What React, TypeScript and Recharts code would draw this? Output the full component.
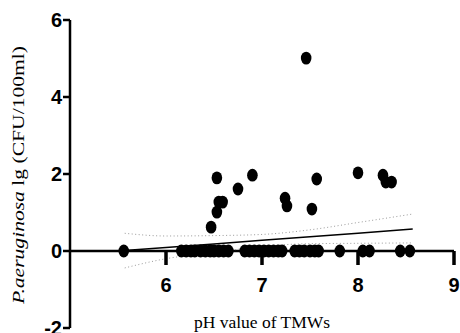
import { ComposedChart, Scatter, Line, XAxis, YAxis, ReferenceLine } from 'recharts';

// pH of each sample and its P. aeruginosa count (lg CFU/100ml)
const phValues = [
  5.56, 6.16, 6.21, 6.26, 6.3, 6.36, 6.41, 6.46, 6.5, 6.55, 6.6, 6.65,
  6.82, 6.87, 6.92, 6.97, 7.02, 7.07, 7.12, 7.17, 7.21,
  7.34, 7.39, 7.44, 7.5, 7.55, 7.59, 7.81, 8.05, 8.12, 8.44, 8.54,
  6.47, 6.53, 6.55, 6.59, 6.53, 6.75, 6.9, 7.24, 7.26, 7.46, 7.52, 7.57, 8.0, 8.26, 8.29, 8.35,
];
const lgCounts = [
  0, 0, 0, 0, 0, 0, 0, 0, 0, 0, 0, 0,
  0, 0, 0, 0, 0, 0, 0, 0, 0,
  0, 0, 0, 0, 0, 0, 0, 0, 0, 0, 0,
  0.62, 1.01, 1.27, 1.27, 1.9, 1.61, 1.97, 1.37, 1.17, 5.01, 1.09, 1.87, 2.03, 1.97, 1.79, 1.79,
];

// regression line and 95% band
const fitX = [5.57, 6.0, 6.5, 7.0, 7.5, 8.0, 8.57];
const fitY = [0.01, 0.09, 0.18, 0.28, 0.37, 0.46, 0.57];
const upperY = [0.46, 0.39, 0.4, 0.43, 0.55, 0.74, 0.96];
const lowerY = [-0.44, -0.2, -0.04, 0.12, 0.19, 0.2, 0.21];

const xTicks = [6, 7, 8, 9];
const yTicks = [-2, 0, 2, 4, 6];

const points = phValues.map((x, i) => ({ x, y: lgCounts[i] }));
const fitData = fitX.map((x, i) => ({ x, fit: fitY[i], upper: upperY[i], lower: lowerY[i] }));
const tickMarks = xTicks.map((x) => ({ x, y: 0 }));

const W = 460;
const H = 333;
const TOP = 20;
const X_AXIS_H = 5;
const PLOT_H = H - TOP - X_AXIS_H;
const Y0 = TOP + (PLOT_H * 6) / 8; // pixel row of y = 0

const SANS = 'Liberation Sans, Arial, sans-serif';
const SERIF = 'Liberation Serif, Times New Roman, serif';

const Dot = ({ cx, cy }: any) => <ellipse cx={cx} cy={cy} rx={5.3} ry={6.4} fill="#000" />;

// tick mark hanging down from the y = 0 line
const TickMark = ({ cx, cy }: any) => (
  <rect x={cx - 1.5} y={cy} width={3} height={14} fill="#000" />
);

// x labels sit under the y = 0 line, not at the bottom of the plot
const XTick = ({ x, payload }: any) => (
  <g>
    <path d={`M${x},${Y0}V${Y0 + 14}`} stroke="#000" strokeWidth={3} fill="none" />
    <text x={x} y={Y0 + 41} textAnchor="middle" fontFamily={SANS} fontWeight="bold" fontSize={20} fill="#000">
      {payload.value}
    </text>
  </g>
);

const XTitle = () => (
  <text x={262} y={328} textAnchor="middle" fontFamily={SERIF} fontSize={17.5} fill="#000">
    pH value of TMWs
  </text>
);

const YTitle = () => (
  <text
    x={24}
    y={175}
    transform="rotate(-90, 24, 175)"
    textAnchor="middle"
    fontFamily={SERIF}
    fontSize={17}
    fill="#000"
    textLength={258}
    lengthAdjust="spacingAndGlyphs"
  >
    <tspan fontStyle="italic">P.aeruginosa</tspan>
    <tspan> lg (CFU/100ml)</tspan>
  </text>
);

export default function App() {
  return (
    <div style={{ position: 'absolute', left: 0, top: 0, background: '#fff' }}>
      <ComposedChart width={W} height={H} data={points} margin={{ top: TOP, right: 6, bottom: 0, left: 0 }}>
        <XAxis
          type="number"
          dataKey="x"
          domain={[5, 9]}
          ticks={xTicks}
          height={X_AXIS_H}
          axisLine={false}
          tickLine={false}
          tick={XTick}
          interval={0}
          label={<XTitle />}
        />
        <YAxis
          type="number"
          domain={[-2, 6]}
          ticks={yTicks}
          width={70}
          interval={0}
          axisLine={{ stroke: '#000', strokeWidth: 2.5 }}
          tickLine={{ stroke: '#000', strokeWidth: 2.5 }}
          tickSize={7}
          tickMargin={1}
          tick={{ fill: '#000', fontSize: 20, fontWeight: 'bold', fontFamily: SANS }}
          label={<YTitle />}
        />
        <ReferenceLine y={0} stroke="#000" strokeWidth={2.5} />
        <Line data={fitData} dataKey="upper" type="monotone" stroke="#9a9a9a" strokeWidth={1} strokeDasharray="1 2.5" dot={false} isAnimationActive={false} />
        <Line data={fitData} dataKey="lower" type="monotone" stroke="#9a9a9a" strokeWidth={1} strokeDasharray="1 2.5" dot={false} isAnimationActive={false} />
        <Line data={fitData} dataKey="fit" type="linear" stroke="#000" strokeWidth={1.5} dot={false} isAnimationActive={false} />
        <Scatter data={tickMarks} dataKey="y" shape={<TickMark />} isAnimationActive={false} />
        <Scatter data={points} dataKey="y" shape={<Dot />} isAnimationActive={false} />
      </ComposedChart>
    </div>
  );
}
